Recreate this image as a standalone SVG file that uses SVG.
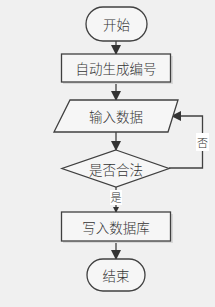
<svg xmlns="http://www.w3.org/2000/svg" width="215" height="307" viewBox="0 0 215 307">
<defs>
<style>
.shape{fill:#f6f6f6;stroke:#404040;stroke-width:1.3}
.shadow{fill:#d8d8d8;stroke:none}
.txt{font-family:"Noto Sans CJK SC","Liberation Serif",serif;font-size:13.5px;font-weight:300;fill:#333;text-anchor:middle;dominant-baseline:central}
.lbl{font-family:"Noto Sans CJK SC",serif;font-size:11px;font-weight:300;fill:#333;text-anchor:middle;dominant-baseline:central}
.conn{fill:none;stroke:#404040;stroke-width:1.3}
</style>
<marker id="ah" markerWidth="10" markerHeight="10" refX="9" refY="5" orient="auto" markerUnits="userSpaceOnUse">
<path d="M0,0 L10,5 L0,10 Z" fill="#333"/>
</marker>
<marker id="ahs" markerWidth="6" markerHeight="6" refX="5" refY="3" orient="auto" markerUnits="userSpaceOnUse">
<path d="M0,0 L6,3 L0,6 Z" fill="#333"/>
</marker>
</defs>
<rect width="215" height="307" fill="#f0f0f0"/>
<g id="connectors">
<line class="conn" x1="116" y1="41" x2="116" y2="54" marker-end="url(#ah)"/>
<line class="conn" x1="116" y1="82" x2="116" y2="100" marker-end="url(#ah)"/>
<line class="conn" x1="116" y1="132" x2="116" y2="150" marker-end="url(#ah)"/>
<polyline class="conn" points="169,168 202.5,168 202.5,116 172,116" marker-end="url(#ah)"/>
<line class="conn" x1="116" y1="187" x2="116" y2="212" marker-end="url(#ahs)"/>
<line class="conn" x1="116" y1="241" x2="116" y2="259" marker-end="url(#ah)"/>
<rect x="196" y="133" width="13" height="18" fill="#ffffff"/>
<text class="lbl" x="202.5" y="142">否</text>
<rect x="110" y="190" width="12" height="15" fill="#ffffff"/>
<text class="lbl" x="116" y="197">是</text>
</g>
<g id="start">
<rect class="shape" x="86" y="7" width="61" height="34" rx="17"/>
<text class="txt" x="116.5" y="24">开始</text>
</g>
<g id="gen">
<rect class="shadow" x="63" y="56" width="110" height="28"/>
<rect class="shape" x="61.5" y="54" width="109" height="28"/>
<text class="txt" x="116" y="68">自动生成编号</text>
</g>
<g id="input">
<polygon class="shape" points="70,100 178,100 168,132 54,132"/>
<text class="txt" x="116" y="116">输入数据</text>
</g>
<g id="check">
<polygon class="shape" points="116,150 169,168.5 116,187 62,168.5"/>
<text class="txt" x="116" y="168.5">是否合法</text>
</g>
<g id="write">
<rect class="shadow" x="63" y="214" width="110" height="29"/>
<rect class="shape" x="61.5" y="212" width="109" height="29"/>
<text class="txt" x="116" y="226.5">写入数据库</text>
</g>
<g id="end">
<rect class="shape" x="87" y="259" width="58" height="32" rx="16"/>
<text class="txt" x="116" y="275">结束</text>
</g>
</svg>
